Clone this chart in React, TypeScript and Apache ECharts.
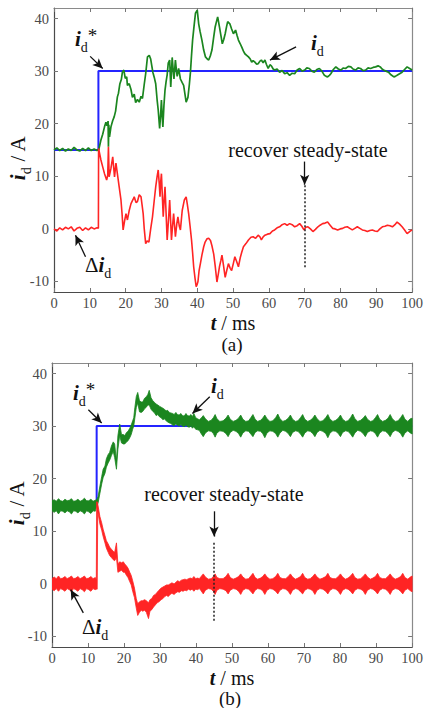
import React, { useEffect, useRef } from 'react';
import * as echarts from 'echarts';

// Axis ranges and tick values shared by both panels
const T_MIN = 0;
const T_MAX = 100;
const I_MIN = -12;
const I_MAX = 42;
const xTicks = [0, 10, 20, 30, 40, 50, 60, 70, 80, 90, 100];
const yTicks = [-10, 0, 10, 20, 30, 40];

// ---- Panel (a) ----
// reference current i_d*  [t (ms), A]
const refA: [number, number][] = [[0, 15], [12.4, 15], [12.4, 30], [100, 30]];

// measured current i_d  [t (ms), A]
const idA: [number, number][] = [
  [0, 15.0], [0.8, 15.4], [1.6, 14.9], [2.4, 15.3], [3.2, 14.8], [4.0, 15.2], [4.8, 14.9], [5.6, 15.5],
  [6.4, 15.0], [7.2, 14.8], [8.0, 15.3], [8.8, 14.9], [9.6, 15.4], [10.4, 14.9], [11.2, 15.2], [12.0, 14.9],
  [12.5, 15.1], [13.1, 16.9], [13.6, 18.0], [14.1, 19.4], [14.5, 20.3], [14.8, 19.6], [15.1, 20.5], [15.2, 15.6],
  [15.3, 19.8], [15.5, 17.5], [15.9, 19.4], [16.4, 20.6], [16.8, 21.3], [17.2, 22.4], [17.7, 25.1], [18.0, 25.8],
  [18.4, 27.6], [18.8, 28.4], [19.1, 29.8], [19.5, 30.2], [19.9, 28.6], [20.3, 28.9], [20.5, 27.3], [21.0, 27.6],
  [21.5, 26.5], [21.9, 25.0], [22.4, 25.6], [22.8, 24.0], [23.3, 24.6], [23.8, 24.1], [24.3, 25.2], [24.7, 24.8],
  [25.2, 27.5], [25.6, 29.5], [26.1, 32.7], [26.6, 33.0], [27.0, 32.3], [27.6, 29.8], [28.0, 28.8], [28.4, 27.6],
  [28.8, 24.5], [29.1, 22.6], [29.5, 19.1], [29.8, 22.0], [30.0, 24.5], [30.2, 21.5], [30.4, 19.4], [30.7, 23.5],
  [31.0, 26.4], [31.3, 28.0], [31.6, 29.3], [31.9, 31.5], [32.3, 32.1], [32.6, 27.0], [33.0, 32.6], [33.3, 30.0],
  [33.5, 28.5], [33.9, 32.1], [34.2, 30.0], [34.4, 29.0], [34.8, 30.5], [35.3, 28.5], [35.8, 27.8], [36.2, 27.3],
  [36.6, 25.5], [36.9, 24.1], [37.4, 25.0], [37.8, 27.5], [38.1, 29.8], [38.4, 33.0], [38.7, 35.9], [39.1, 38.5],
  [39.5, 41.0], [40.0, 41.6], [40.4, 39.0], [40.8, 37.5], [41.3, 35.9], [41.8, 34.0], [42.3, 32.7], [42.8, 32.3],
  [43.2, 32.1], [43.7, 33.0], [44.1, 34.0], [44.6, 36.5], [45.0, 38.4], [45.4, 39.5], [45.7, 40.3], [46.2, 38.4],
  [46.6, 36.8], [47.0, 35.2], [47.4, 36.0], [47.8, 37.1], [48.2, 38.5], [48.5, 39.4], [49.1, 39.0], [49.6, 38.0],
  [50.1, 37.1], [50.7, 37.8], [51.1, 36.8], [51.5, 35.9], [52.0, 35.2], [52.4, 34.6], [52.9, 33.8], [53.3, 33.3],
  [53.8, 33.0], [54.3, 32.7], [54.8, 32.3], [55.2, 31.7], [55.6, 32.0], [56.1, 31.7], [56.6, 31.3], [57.0, 31.4],
  [57.5, 31.9], [57.9, 32.1], [58.4, 31.6], [58.9, 32.1], [59.3, 31.3], [59.8, 30.5], [60.3, 31.2], [60.7, 31.0],
  [61.2, 30.4], [61.6, 30.2], [62.3, 30.4], [63.0, 29.8], [63.7, 30.1], [64.4, 29.5], [65.1, 29.7], [65.8, 29.2],
  [66.5, 29.6], [67.2, 29.5], [67.9, 30.2], [68.6, 30.5], [69.3, 30.0], [70.0, 30.2], [70.6, 30.6], [71.3, 30.5],
  [72.0, 30.0], [72.7, 29.8], [73.4, 30.3], [74.1, 30.5], [74.8, 30.0], [75.5, 29.2], [76.0, 29.0], [76.4, 28.9],
  [76.9, 29.2], [77.3, 29.5], [78.0, 30.3], [78.7, 30.8], [79.4, 30.4], [80.1, 30.2], [80.8, 30.6], [81.4, 30.5],
  [82.2, 30.9], [82.9, 30.8], [83.5, 30.4], [84.2, 30.2], [84.9, 30.6], [85.6, 30.5], [86.3, 30.1], [87.0, 30.2],
  [87.7, 30.6], [88.4, 30.5], [89.1, 30.7], [89.8, 30.8], [90.5, 31.0], [91.1, 30.8], [91.6, 30.4], [92.0, 30.2],
  [92.7, 30.0], [93.4, 29.8], [94.1, 29.3], [94.9, 28.9], [95.3, 29.0], [95.8, 29.2], [96.5, 29.5], [97.2, 29.8],
  [97.9, 30.3], [98.6, 30.8], [99.3, 30.5], [100, 30.2],
];

// current error Δi_d  [t (ms), A]
const deltaA: [number, number][] = [
  [0, 0.0], [0.8, -0.4], [1.6, 0.2], [2.4, -0.2], [3.2, 0.3], [4.0, 0.0], [4.8, 0.4], [5.6, -0.4],
  [6.4, 0.1], [7.2, 0.3], [8.0, -0.3], [8.8, 0.2], [9.6, -0.2], [10.4, 0.3], [11.2, 0.0], [12.0, 0.2],
  [12.4, 0.1], [12.45, 15.3], [13.1, 13.1], [13.6, 11.8], [14.1, 10.5], [14.7, 9.3], [15.0, 10.2], [15.2, 15.6],
  [15.4, 9.9], [15.9, 11.5], [16.4, 13.7], [16.9, 9.9], [17.3, 12.5], [17.8, 10.0], [18.2, 8.0], [18.7, 5.5],
  [19.0, 2.9], [19.3, -0.2], [19.7, 1.5], [20.1, 2.9], [20.5, 1.7], [21.0, 3.5], [21.5, 4.8], [22.0, 5.5],
  [22.4, 6.1], [22.9, 5.0], [23.3, 5.2], [23.8, 6.5], [24.3, 6.1], [24.6, 4.5], [24.9, 2.9], [25.2, 0.0],
  [25.6, -2.8], [26.0, -2.3], [26.5, -2.5], [27.0, 0.0], [27.5, 2.3], [28.0, 5.5], [28.4, 8.0], [28.8, 10.0],
  [29.1, 11.2], [29.4, 8.5], [29.6, 6.1], [29.8, 9.0], [30.0, 10.5], [30.3, 5.5], [30.5, 2.3], [30.8, 6.0],
  [31.0, 8.0], [31.3, 3.0], [31.6, -2.1], [32.0, 2.0], [32.3, 5.5], [32.6, 1.0], [32.8, -2.1], [33.1, 0.5],
  [33.4, 2.9], [33.7, 0.3], [33.9, -1.5], [34.3, 1.0], [34.6, 2.3], [35.0, 0.5], [35.3, -0.2], [35.8, 3.5],
  [36.4, 5.5], [36.9, 6.1], [37.2, 4.8], [37.6, 2.9], [38.0, 0.5], [38.4, -2.1], [38.7, -4.5], [39.0, -7.2],
  [39.4, -9.5], [39.7, -11.0], [40.0, -10.5], [40.2, -10.0], [40.5, -8.0], [40.9, -6.5], [41.3, -5.0], [41.8, -3.4],
  [42.2, -2.5], [42.7, -1.9], [43.2, -1.8], [43.7, -2.2], [44.1, -3.2], [44.6, -4.8], [45.0, -7.0], [45.5, -10.1],
  [45.9, -8.5], [46.2, -7.2], [46.6, -6.0], [46.9, -5.0], [47.3, -6.8], [47.8, -9.2], [48.2, -8.0], [48.7, -6.6],
  [49.2, -7.5], [49.6, -7.9], [50.1, -6.5], [50.5, -5.3], [51.0, -6.2], [51.5, -7.2], [52.0, -5.5], [52.4, -4.5],
  [52.9, -3.4], [53.6, -2.8], [54.3, -2.1], [55.0, -1.6], [55.6, -1.5], [56.3, -1.8], [57.0, -1.2], [57.5, -1.5],
  [57.9, -2.1], [58.4, -1.5], [58.9, -1.2], [59.6, -1.0], [60.3, -0.9], [61.0, -0.4], [61.6, -0.2], [62.3, 0.2],
  [63.0, 0.4], [63.7, 0.8], [64.4, 1.0], [65.1, 0.7], [65.8, 1.0], [66.5, 0.8], [67.2, 0.4], [67.9, 0.6],
  [68.6, 1.0], [69.2, 0.5], [69.8, -0.2], [70.3, 0.3], [70.9, 0.4], [71.6, 0.0], [72.3, -0.5], [73.0, -0.1],
  [73.7, 0.4], [74.3, 0.7], [75.0, 1.0], [75.7, 1.1], [76.4, 1.3], [77.1, 0.7], [77.8, 0.1], [78.5, 0.0],
  [79.2, -0.2], [79.9, 0.0], [80.6, 0.1], [81.2, 0.3], [81.9, 0.4], [82.6, 0.1], [83.3, -0.2], [84.0, 0.1],
  [84.7, 0.4], [85.4, 0.1], [86.1, -0.2], [86.8, -0.3], [87.5, -0.5], [88.2, -0.3], [88.9, -0.2], [89.6, -0.4],
  [90.3, -0.5], [91.0, 0.0], [91.7, 0.4], [92.4, 0.5], [93.1, 0.7], [93.8, 0.6], [94.5, 0.4], [95.2, 0.8],
  [95.8, 1.3], [96.5, 0.9], [97.2, 0.4], [97.9, -0.2], [98.6, -0.9], [99.3, -0.5], [100, -0.2],
];

// ---- Panel (b) ----
const refB: [number, number][] = [[0, 15], [12.4, 15], [12.4, 30], [100, 30]];

// measured current i_d as a ripple envelope  [t (ms), lower A, upper A]
const idB: [number, number, number][] = [
  [0, 13.9, 15.8], [0.6, 13.6, 16.0], [1.2, 13.9, 15.7], [1.8, 13.3, 16.2], [2.4, 13.9, 15.8], [3.0, 13.8, 15.7],
  [3.6, 13.5, 16.1], [4.2, 13.9, 15.8], [4.8, 13.7, 15.9], [5.4, 13.3, 16.2], [6.0, 13.9, 15.7], [6.6, 13.8, 15.8],
  [7.2, 13.5, 16.1], [7.8, 13.9, 15.7], [8.4, 13.7, 15.9], [9.0, 13.3, 16.3], [9.6, 13.9, 15.8], [10.2, 13.7, 15.8],
  [10.8, 13.4, 16.1], [11.4, 13.9, 15.7], [12.0, 13.8, 15.9], [12.4, 14.8, 16.0],
  [12.8, 15.4, 16.6], [13.3, 17.2, 18.6], [13.8, 19.0, 20.4], [14.2, 20.2, 21.8], [14.7, 21.0, 22.4], [15.1, 22.2, 23.8],
  [15.6, 23.0, 24.6], [16.0, 23.5, 25.0], [16.5, 24.4, 26.2], [17.0, 25.2, 27.0], [17.4, 24.0, 26.6], [17.9, 21.8, 23.4],
  [18.3, 25.6, 28.2], [18.8, 28.2, 30.4], [19.3, 26.8, 28.4], [19.8, 26.6, 28.4], [20.2, 26.6, 28.2], [20.7, 27.0, 28.8],
  [21.1, 27.2, 29.0], [21.6, 27.8, 29.6], [22.0, 28.4, 30.2], [22.4, 29.4, 31.0], [22.7, 30.0, 31.6], [23.0, 31.5, 33.5],
  [23.4, 33.5, 35.6], [23.8, 34.4, 36.4], [24.3, 32.7, 34.8], [24.8, 32.6, 34.6], [25.2, 32.8, 34.6], [25.7, 33.3, 35.3],
  [26.2, 33.6, 35.6], [26.6, 34.0, 36.0], [27.0, 34.0, 36.8], [27.5, 33.2, 35.4], [28.0, 32.8, 34.8], [28.5, 32.5, 34.5],
  [28.9, 32.0, 34.2], [29.4, 32.2, 34.0], [29.8, 31.8, 33.8], [30.3, 31.6, 33.6], [30.8, 31.2, 33.4], [31.2, 31.4, 33.2],
  [31.7, 31.0, 32.9], [32.1, 30.8, 33.0], [32.6, 30.6, 32.6], [33.0, 30.5, 32.5], [33.5, 30.2, 32.4], [33.9, 30.1, 32.2],
  [34.4, 30.4, 32.6], [34.8, 30.2, 32.2], [35.3, 30.0, 32.1], [35.8, 30.3, 32.4], [36.2, 30.0, 32.0], [36.7, 29.9, 31.9],
  [37.2, 30.2, 32.4], [37.6, 29.9, 32.0], [38.1, 29.8, 31.9], [38.6, 30.0, 32.2], [39.0, 29.6, 31.8], [39.4, 29.9, 32.4],
  [39.9, 29.4, 31.6], [40.4, 29.3, 31.4], [40.9, 29.2, 31.2],
  [41.4, 28.6, 31.5], [42.0, 28.0, 32.0], [42.6, 28.7, 31.4], [43.4, 29.1, 30.9], [44.2, 29.0, 31.1], [44.8, 28.6, 31.6],
  [45.3, 27.9, 32.2], [45.8, 28.7, 31.4], [46.6, 29.1, 30.9], [47.5, 29.0, 31.0], [48.3, 28.6, 31.5], [48.9, 28.0, 32.1],
  [49.5, 28.8, 31.3], [50.3, 29.2, 30.9], [51.1, 29.0, 31.1], [51.8, 28.6, 31.5], [52.4, 27.9, 32.1], [53.0, 28.7, 31.3],
  [53.8, 29.1, 30.9], [54.6, 29.0, 31.0], [55.2, 28.5, 31.6], [55.8, 28.0, 32.2], [56.4, 28.8, 31.3], [57.1, 29.1, 30.9],
  [57.9, 29.0, 31.1], [58.5, 28.6, 31.5], [59.1, 27.8, 32.1], [59.7, 28.7, 31.4], [60.5, 29.1, 30.9], [61.3, 29.0, 31.0],
  [62.1, 28.6, 31.6], [62.7, 27.9, 32.3], [63.3, 28.7, 31.4], [64.1, 29.2, 30.9], [64.9, 29.0, 31.1], [65.6, 28.6, 31.5],
  [66.2, 28.0, 32.1], [66.8, 28.8, 31.3], [67.6, 29.1, 30.9], [68.3, 29.0, 31.0], [69.0, 28.5, 31.6], [69.6, 27.9, 32.2],
  [70.2, 28.7, 31.3], [71.0, 29.1, 30.9], [71.7, 29.0, 31.1], [72.4, 28.6, 31.5], [73.0, 28.0, 32.1], [73.6, 28.8, 31.4],
  [74.4, 29.2, 30.9], [75.2, 29.0, 31.0], [76.0, 28.6, 31.6], [76.6, 27.8, 32.2], [77.2, 28.7, 31.3], [78.0, 29.1, 30.9],
  [78.8, 29.0, 31.1], [79.5, 28.6, 31.5], [80.1, 28.0, 32.1], [80.7, 28.8, 31.3], [81.5, 29.1, 30.9], [82.2, 29.0, 31.0],
  [82.9, 28.5, 31.6], [83.5, 27.9, 32.3], [84.1, 28.7, 31.4], [84.9, 29.2, 30.9], [85.7, 29.0, 31.1], [86.4, 28.6, 31.5],
  [87.0, 28.0, 32.0], [87.6, 28.8, 31.3], [88.4, 29.1, 30.9], [89.1, 29.0, 31.0], [89.8, 28.6, 31.6], [90.4, 27.9, 32.2],
  [91.0, 28.7, 31.3], [91.8, 29.1, 30.9], [92.6, 29.0, 31.1], [93.3, 28.6, 31.5], [93.9, 28.0, 32.2], [94.5, 28.8, 31.4],
  [95.3, 29.2, 30.9], [96.1, 29.0, 31.0], [96.8, 28.6, 31.6], [97.4, 27.9, 32.2], [98.0, 28.7, 31.3], [98.8, 29.1, 30.9],
  [99.5, 28.7, 31.4], [100, 28.5, 31.5],
];

// current error Δi_d as a ripple envelope  [t (ms), lower A, upper A]
const deltaB: [number, number, number][] = [
  [0, -1.0, 1.0], [0.6, -1.3, 1.3], [1.2, -0.9, 1.0], [1.8, -1.4, 1.5], [2.4, -0.9, 1.0], [3.0, -1.1, 1.1],
  [3.6, -1.4, 1.4], [4.2, -0.9, 1.0], [4.8, -1.1, 1.2], [5.4, -1.5, 1.5], [6.0, -0.9, 1.0], [6.6, -1.1, 1.1],
  [7.2, -1.4, 1.4], [7.8, -0.9, 1.0], [8.4, -1.1, 1.2], [9.0, -1.5, 1.5], [9.6, -0.9, 1.0], [10.2, -1.1, 1.1],
  [10.8, -1.4, 1.4], [11.4, -0.9, 1.0], [12.0, -1.1, 1.2], [12.3, -1.0, 1.0],
  [12.4, -1.0, 15.6], [12.55, -1.0, 15.6], [12.7, 13.8, 15.2],
  [13.3, 11.4, 12.8], [13.8, 10.2, 11.6], [14.2, 9.0, 10.4], [14.7, 7.8, 9.2], [15.1, 6.8, 8.2], [15.6, 6.0, 7.6],
  [16.0, 5.4, 7.0], [16.5, 5.0, 6.6], [17.0, 4.6, 6.2], [17.4, 4.4, 6.0], [17.9, 5.0, 7.8], [18.3, 2.2, 3.8],
  [18.8, 2.4, 4.2], [19.3, 2.6, 4.0], [19.8, 2.2, 4.2], [20.2, 2.2, 3.8], [20.7, 1.6, 3.4], [21.1, 1.2, 3.0],
  [21.6, 0.4, 2.2], [22.0, -0.2, 1.6], [22.4, -1.4, 0.6], [22.9, -2.6, -0.8], [23.4, -4.6, -2.8], [23.8, -6.0, -3.8],
  [24.3, -5.4, -3.4], [24.8, -5.0, -3.2], [25.2, -5.2, -3.2], [25.7, -5.0, -3.0], [26.2, -5.4, -3.2], [26.8, -6.6, -3.6],
  [27.2, -5.2, -3.0], [27.7, -4.9, -2.8], [28.2, -4.4, -2.2], [28.7, -4.0, -2.0], [29.2, -3.6, -1.6], [29.7, -3.4, -1.2],
  [30.3, -3.0, -0.8], [30.8, -2.8, -0.6], [31.3, -2.4, -0.4], [31.8, -2.2, -0.2], [32.3, -2.4, -0.2], [32.8, -2.0, 0.0],
  [33.3, -1.8, 0.2], [33.9, -2.0, 0.0], [34.4, -1.7, 0.3], [34.9, -1.5, 0.6], [35.4, -1.6, 0.4], [35.9, -1.3, 0.7],
  [36.4, -1.4, 0.8], [36.9, -1.2, 0.9], [37.4, -1.3, 0.8], [37.9, -1.0, 1.0], [38.4, -1.2, 1.1], [38.9, -1.0, 1.0],
  [39.4, -1.4, 1.4], [39.9, -1.0, 1.0], [40.4, -1.1, 1.1], [40.9, -0.9, 1.0],
  [41.4, -1.3, 1.4], [42.0, -1.9, 1.9], [42.6, -1.2, 1.3], [43.4, -0.9, 0.9], [44.2, -1.0, 1.0], [44.8, -1.4, 1.4],
  [45.3, -2.0, 1.9], [45.8, -1.2, 1.2], [46.6, -0.9, 1.0], [47.5, -1.0, 1.0], [48.3, -1.3, 1.4], [48.9, -1.9, 2.0],
  [49.5, -1.2, 1.2], [50.3, -0.9, 0.9], [51.1, -1.0, 1.1], [51.8, -1.4, 1.4], [52.4, -2.0, 1.9], [53.0, -1.2, 1.3],
  [53.8, -0.9, 0.9], [54.6, -1.0, 1.0], [55.2, -1.4, 1.5], [55.8, -1.9, 2.0], [56.4, -1.2, 1.2], [57.1, -0.9, 0.9],
  [57.9, -1.0, 1.1], [58.5, -1.3, 1.4], [59.1, -2.0, 1.9], [59.7, -1.2, 1.3], [60.5, -0.9, 0.9], [61.3, -1.0, 1.0],
  [62.1, -1.4, 1.4], [62.7, -1.9, 2.0], [63.3, -1.2, 1.2], [64.1, -0.9, 1.0], [64.9, -1.0, 1.0], [65.6, -1.4, 1.4],
  [66.2, -2.0, 1.9], [66.8, -1.2, 1.3], [67.6, -0.9, 0.9], [68.3, -1.0, 1.1], [69.0, -1.5, 1.4], [69.6, -1.9, 2.0],
  [70.2, -1.2, 1.2], [71.0, -0.9, 0.9], [71.7, -1.0, 1.0], [72.4, -1.3, 1.4], [73.0, -2.0, 1.9], [73.6, -1.2, 1.3],
  [74.4, -0.9, 0.9], [75.2, -1.0, 1.1], [76.0, -1.4, 1.4], [76.6, -1.9, 2.0], [77.2, -1.2, 1.2], [78.0, -0.9, 1.0],
  [78.8, -1.0, 1.0], [79.5, -1.4, 1.4], [80.1, -2.0, 1.9], [80.7, -1.2, 1.3], [81.5, -0.9, 0.9], [82.2, -1.0, 1.1],
  [82.9, -1.4, 1.5], [83.5, -1.9, 2.0], [84.1, -1.2, 1.2], [84.9, -0.9, 0.9], [85.7, -1.0, 1.0], [86.4, -1.3, 1.4],
  [87.0, -2.0, 1.9], [87.6, -1.2, 1.3], [88.4, -0.9, 0.9], [89.1, -1.0, 1.1], [89.8, -1.4, 1.4], [90.4, -1.9, 2.0],
  [91.0, -1.2, 1.2], [91.8, -0.9, 1.0], [92.6, -1.0, 1.0], [93.3, -1.4, 1.4], [93.9, -2.0, 1.9], [94.5, -1.2, 1.3],
  [95.3, -0.9, 0.9], [96.1, -1.0, 1.1], [96.8, -1.4, 1.4], [97.4, -1.9, 2.0], [98.0, -1.2, 1.2], [98.8, -0.9, 0.9],
  [99.5, -1.3, 1.3], [100, -1.5, 1.5],
];

// time at which each controller is back in steady state (ms)
const recoverA = 70;
const recoverB = 45;

const SERIF = "Liberation Serif";
const BLUE = '#2424ff';
const GREEN = '#1b861f';
const RED = '#ff2424';
const AXIS_DARK = '#4a4a4a';
const AXIS_LIGHT = '#8a8a8a';

// rich-text styles: italic symbol, subscript, superscript star, upright text
const richText = {
  i: { fontFamily: SERIF, fontStyle: 'italic', fontWeight: 'bold', fontSize: 21, fill: '#111', padding: [0, 0, 5, 0], verticalAlign: 'bottom' },
  d: { fontFamily: SERIF, fontSize: 14, fill: '#111', verticalAlign: 'bottom' },
  s: { fontFamily: SERIF, fontSize: 19, fill: '#111', padding: [0, 0, 9, 0], verticalAlign: 'bottom' },
  n: { fontFamily: SERIF, fontSize: 21, fill: '#111', padding: [0, 0, 5, 0], verticalAlign: 'bottom' },
  t: { fontFamily: SERIF, fontStyle: 'italic', fontWeight: 'bold', fontSize: 20, lineHeight: 16, fill: '#111' },
  u: { fontFamily: SERIF, fontSize: 20, lineHeight: 16, fill: '#111' },
};

const label = (text: string, x: number, y: number, align = 'left', rotation = 0) => ({
  type: 'text',
  x,
  y,
  rotation,
  silent: true,
  style: { text, rich: richText, align, verticalAlign: 'middle', fontFamily: SERIF, fontSize: 21, fill: '#111' },
});

const plain = (text: string, x: number, y: number, size: number, lineHeight = size) => ({
  type: 'text',
  x,
  y,
  silent: true,
  style: { text, align: 'center', verticalAlign: 'middle', fontFamily: SERIF, fontSize: size, lineHeight, fill: '#111' },
});

const bandSeries = (band: [number, number, number][], color: string, axis: number) => ({
  type: 'custom',
  xAxisIndex: axis,
  yAxisIndex: axis,
  clip: true,
  silent: true,
  data: [[band[0][0], band[0][1]]],
  renderItem: (_p: any, api: any) => {
    const upper = band.map(([t, , hi]) => api.coord([t, hi]));
    const lower = band.map(([t, lo]) => api.coord([t, lo])).reverse();
    return {
      type: 'polygon',
      shape: { points: upper.concat(lower) },
      style: { fill: color, stroke: color, lineWidth: 0.8 },
    };
  },
});

const arrow = (from: [number, number], to: [number, number]) => [
  { coord: from, symbol: 'none' },
  { coord: to, symbol: 'arrow' },
];

const dotted = (from: [number, number], to: [number, number]) => [
  { coord: from, symbol: 'none', lineStyle: { type: [2, 2], width: 1.5, color: '#222' } },
  { coord: to, symbol: 'none' },
];

const makeAxes = (grid: number) => {
  const common = { gridIndex: grid, type: 'value', splitLine: { show: false } };
  const x = { ...common, min: T_MIN, max: T_MAX, interval: 10 };
  const y = { ...common, min: I_MIN, max: I_MAX };
  const tick = (values: number[]) => ({ show: true, inside: true, length: 4, customValues: values, lineStyle: { color: '#777', width: 1 } });
  const lbl = (values: number[], margin: number) => ({
    show: true,
    customValues: values,
    fontFamily: SERIF,
    fontSize: 14.5,
    lineHeight: 14,
    color: '#4a4a4a',
    margin,
  });
  return {
    xAxis: [
      { ...x, position: 'bottom', axisLine: { onZero: false, lineStyle: { color: AXIS_DARK, width: 1.2 } }, axisTick: tick(xTicks), axisLabel: lbl(xTicks, 4) },
      { ...x, position: 'top', axisLine: { onZero: false, lineStyle: { color: AXIS_LIGHT, width: 1.2 } }, axisTick: tick(xTicks), axisLabel: { show: false } },
    ],
    yAxis: [
      { ...y, position: 'left', axisLine: { show: true, onZero: false, lineStyle: { color: AXIS_DARK, width: 1.2 } }, axisTick: tick(yTicks), axisLabel: lbl(yTicks, 5) },
      { ...y, position: 'right', axisLine: { show: true, onZero: false, lineStyle: { color: AXIS_LIGHT, width: 1.2 } }, axisTick: tick(yTicks), axisLabel: { show: false } },
    ],
  };
};

export default function App() {
  const ref = useRef<HTMLDivElement>(null);

  useEffect(() => {
    if (!ref.current) return;
    const chart = echarts.init(ref.current, undefined, { renderer: 'svg' });
    const axA = makeAxes(0);
    const axB = makeAxes(1);

    const lineBase = { type: 'line', showSymbol: false, symbol: 'none', silent: true, clip: true };
    const markBase = {
      silent: true,
      animation: false,
      label: { show: false },
      symbolSize: [7, 10],
      lineStyle: { color: '#111', width: 1.3, type: 'solid' },
    };

    chart.setOption({
      animation: false,
      textStyle: { fontFamily: SERIF },
      grid: [
        { left: 54, top: 8, width: 361, height: 284 },
        { left: 52, top: 363, width: 363, height: 284 },
      ],
      xAxis: [...axA.xAxis, ...axB.xAxis],
      yAxis: [...axA.yAxis, ...axB.yAxis],
      series: [
        {
          ...lineBase,
          name: 'i_d* (a)',
          xAxisIndex: 0,
          yAxisIndex: 0,
          data: refA,
          lineStyle: { color: BLUE, width: 2 },
          z: 2,
          markLine: {
            ...markBase,
            data: [
              arrow([10.1, 32.8], [13.6, 30.5]),
              arrow([67.6, 34.6], [60.3, 32.1]),
              arrow([8.8, -5.3], [6.0, -1.2]),
              arrow([recoverA, 12.8], [recoverA, 8.4]),
              dotted([recoverA, 8.3], [recoverA, -7.5]),
            ],
          },
        },
        { ...lineBase, name: 'i_d (a)', xAxisIndex: 0, yAxisIndex: 0, data: idA, lineStyle: { color: GREEN, width: 1.7 }, z: 3 },
        { ...lineBase, name: 'Δi_d (a)', xAxisIndex: 0, yAxisIndex: 0, data: deltaA, lineStyle: { color: RED, width: 1.6 }, z: 4 },
        {
          ...lineBase,
          name: 'i_d* (b)',
          xAxisIndex: 2,
          yAxisIndex: 2,
          data: refB,
          lineStyle: { color: BLUE, width: 2 },
          z: 2,
          markLine: {
            ...markBase,
            data: [
              arrow([10.1, 33.1], [13.8, 30.6]),
              arrow([43.8, 35.6], [39.0, 32.4]),
              arrow([8.7, -5.5], [5.2, -1.1]),
              arrow([recoverB, 13.8], [recoverB, 9.0]),
              dotted([recoverB, 7.8], [recoverB, -7.1]),
            ],
          },
        },
        { ...bandSeries(idB, GREEN, 2), z: 3 },
        { ...bandSeries(deltaB, RED, 2), z: 4 },
      ],
      graphic: [
        // panel (a)
        label('{i|i}{d|d}{s|*}', 75, 40),
        label('{i|i}{d|d}', 311, 45),
        label('{n|Δ}{i|i}{d|d}', 85, 267),
        plain('recover steady-state', 308, 150, 20),
        label('{i|i}{d|d}{n| / A}', 20, 158, 'center', Math.PI / 2),
        label('{t|t}{u| / ms}', 233, 323, 'center'),
        plain('(a)', 232, 344, 19, 16),
        // panel (b)
        label('{i|i}{d|d}{s|*}', 73, 394),
        label('{i|i}{d|d}', 211, 388),
        label('{n|Δ}{i|i}{d|d}', 82, 629),
        plain('recover steady-state', 224, 494, 20),
        label('{i|i}{d|d}{n| / A}', 19, 503, 'center', Math.PI / 2),
        label('{t|t}{u| / ms}', 232, 678, 'center'),
        plain('(b)', 230, 698, 19, 16),
      ],
    });
    return () => chart.dispose();
  }, []);

  return <div ref={ref} style={{ position: 'fixed', left: 0, top: 0, width: 426, height: 708, background: '#fff' }} />;
}
